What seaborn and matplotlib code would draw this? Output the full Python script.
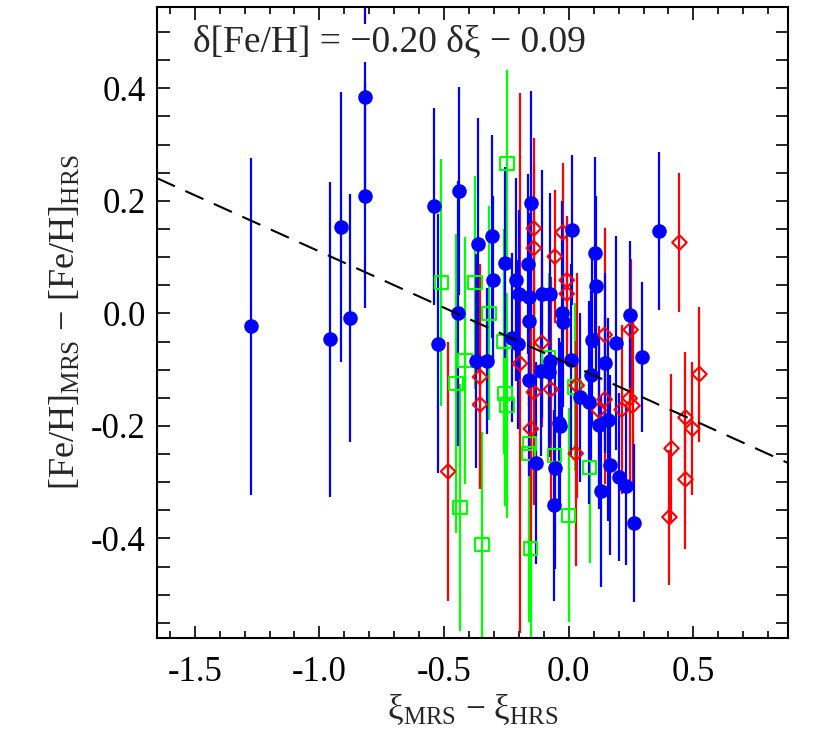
import matplotlib

matplotlib.use("Agg")
import matplotlib.pyplot as plt
import numpy as np
import pandas as pd
import seaborn as sns
from matplotlib.ticker import MultipleLocator, FormatStrFormatter

sns.set_theme(style="ticks")
plt.rcParams["font.family"] = ["Liberation Serif", "DejaVu Serif"]
plt.rcParams["mathtext.fontset"] = "custom"
plt.rcParams["mathtext.rm"] = "Liberation Serif"
plt.rcParams["mathtext.it"] = "Liberation Serif:italic"
plt.rcParams["axes.unicode_minus"] = False

# blue filled circles
blue_x = [-1.276, -0.956, -0.912, -0.876, -0.816, -0.816, -0.54, -0.524, -0.44, -0.444,
          -0.364, -0.308, -0.304, -0.372, -0.328, -0.256, -0.152, 0.012, -0.164, -0.212,
          -0.2, -0.16, -0.108, -0.076, -0.16, -0.028, -0.024, -0.228, -0.204, -0.076,
          0.008, -0.112, -0.08, -0.16, -0.04, -0.036, -0.132, -0.056, -0.06, 0.044,
          0.36, 0.104, 0.108, 0.244, 0.092, 0.188, 0.292, 0.144, 0.088, 0.08,
          0.12, 0.156, 0.164, 0.2, 0.228, 0.128, 0.26]
blue_y = [-0.023, -0.046, 0.153, -0.008, 0.384, 0.209, 0.19, -0.054, 0.217, 0.0,
          0.123, 0.137, 0.059, -0.084, -0.084, 0.09, 0.196, 0.148, 0.087, 0.06,
          0.034, 0.029, 0.034, 0.034, -0.014, 0.0, -0.016, -0.043, -0.055, -0.084,
          -0.082, -0.103, -0.105, -0.119, -0.194, -0.2, -0.266, -0.274, -0.341, -0.149,
          0.146, 0.108, 0.048, -0.002, -0.048, -0.053, -0.078, -0.088, -0.11, -0.158,
          -0.198, -0.189, -0.27, -0.291, -0.307, -0.316, -0.373]
blue_err = [0.30, 0.28, 0.24, 0.22, 0.18, 0.20, 0.175, 0.23, 0.185, 0.235,
            0.224, 0.18, 0.15, 0.19, 0.13, 0.17, 0.2, 0.133, 0.16, 0.18,
            0.15, 0.15, 0.22, 0.18, 0.15, 0.2, 0.15, 0.15, 0.15, 0.15,
            0.17, 0.15, 0.15, 0.17, 0.15, 0.15, 0.18, 0.18, 0.17, 0.15,
            0.14, 0.17, 0.16, 0.13, 0.15, 0.19, 0.133, 0.16, 0.15, 0.18,
            0.15, 0.18, 0.16, 0.15, 0.14, 0.17, 0.14]

# red open diamonds
red_x = [0.444, -0.14, -0.14, -0.024, -0.056, -0.008, -0.008, -0.108, -0.196, -0.356,
         -0.356, 0.032, -0.14, -0.072, -0.152, 0.028, -0.484, 0.144, 0.248, 0.144,
         0.212, 0.244, 0.256, 0.412, 0.404, 0.468, 0.496, 0.524, 0.468, 0.12]
red_y = [0.126, 0.151, 0.116, 0.144, 0.101, 0.059, 0.035, -0.052, -0.089, -0.113,
         -0.162, -0.128, -0.14, -0.135, -0.205, -0.249, -0.281, -0.038, -0.029, -0.153,
         -0.171, -0.151, -0.164, -0.24, -0.362, -0.185, -0.205, -0.108, -0.295, -0.172]
red_err = [0.124, 0.16, 0.15, 0.124, 0.118, 0.115, 0.12, 0.15, 0.48, 0.2,
           0.15, 0.2, 0.2, 0.2, 0.2, 0.2, 0.23, 0.19, 0.125, 0.15,
           0.15, 0.15, 0.15, 0.133, 0.12, 0.116, 0.118, 0.12, 0.123, 0.15]

# green open squares
green_x = [-0.512, -0.376, -0.32, -0.248, -0.452, -0.436, -0.348, -0.416, -0.26, -0.08,
           0.024, -0.256, -0.248, -0.16, -0.156, -0.056, -0.152, 0.0, 0.084]
green_y = [0.055, 0.055, 0.0, 0.267, -0.124, -0.345, -0.411, -0.084, -0.05, -0.078,
           -0.131, -0.142, -0.163, -0.249, -0.231, -0.252, -0.418, -0.359, -0.274]
green_err = [0.22, 0.19, 0.19, 0.165, 0.266, 0.22, 0.2, 0.22, 0.2, 0.15,
             0.15, 0.2, 0.2, 0.3, 0.2, 0.15, 0.2, 0.19, 0.17]

fit_slope = -0.20
fit_intercept = -0.09

groups = [
    ("green", green_x, green_y, green_err, "#00FF00", "s", 90, False),
    ("red", red_x, red_y, red_err, "#FF0000", "D", 55, False),
    ("blue", blue_x, blue_y, blue_err, "#0000FF", "o", 110, True),
]
frames = []
for name, xs, ys, es, *_ in groups:
    frames.append(pd.DataFrame({"group": name, "dxi": xs, "dfeh": ys, "err": es}))
df = pd.concat(frames, ignore_index=True)

fig = plt.figure(figsize=(8.3, 7.55), dpi=100)
ax = fig.add_axes([0.189, 0.155, 0.760, 0.836])

for name, _, _, _, color, marker, size, filled in groups:
    sub = df[df["group"] == name]
    ax.errorbar(sub["dxi"], sub["dfeh"], yerr=sub["err"], fmt="none",
                ecolor=color, elinewidth=1.6, capsize=0)
    if filled:
        sns.scatterplot(data=sub, x="dxi", y="dfeh", marker=marker, s=size,
                        color=color, edgecolor=color, linewidth=0, ax=ax, zorder=3)
    else:
        sns.scatterplot(data=sub, x="dxi", y="dfeh", marker=marker, s=size,
                        facecolor="none", edgecolor=color, linewidth=1.5, ax=ax, zorder=3)

ax.axline((0, fit_intercept), slope=fit_slope, color="black", lw=1.5,
          dashes=(9.5, 5.5), zorder=4)

ax.set_xlim(-1.652, 0.878)
ax.set_ylim(-0.577, 0.545)
ax.xaxis.set_major_locator(MultipleLocator(0.5))
ax.xaxis.set_minor_locator(MultipleLocator(0.1))
ax.yaxis.set_major_locator(MultipleLocator(0.2))
ax.yaxis.set_minor_locator(MultipleLocator(0.05))
ax.tick_params(which="both", direction="in", top=True, right=True, width=1.2,
               labelsize=25, colors="black")
ax.tick_params(axis="x", which="major", length=9, pad=13)
ax.tick_params(axis="x", which="minor", length=5)
ax.tick_params(axis="y", which="both", length=9, pad=8)
ax.xaxis.set_major_formatter(FormatStrFormatter("%.1f"))
ax.yaxis.set_major_formatter(FormatStrFormatter("%.1f"))
for sp in ax.spines.values():
    sp.set_linewidth(1.5)
    sp.set_color("black")

ax.set_xlabel("ξ$_\\mathrm{MRS}$ − ξ$_\\mathrm{HRS}$", fontsize=25.5, labelpad=3)
ax.set_ylabel("[Fe/H]$_\\mathrm{MRS}$ − [Fe/H]$_\\mathrm{HRS}$", fontsize=26, labelpad=6)

ax.text(0.057, 0.943, "δ[Fe/H] = −0.20 δξ − 0.09", transform=ax.transAxes,
        fontsize=27, ha="left", va="center", zorder=5,
        bbox=dict(facecolor="white", edgecolor="none", pad=1))

fig.savefig("out.png", dpi=100)
